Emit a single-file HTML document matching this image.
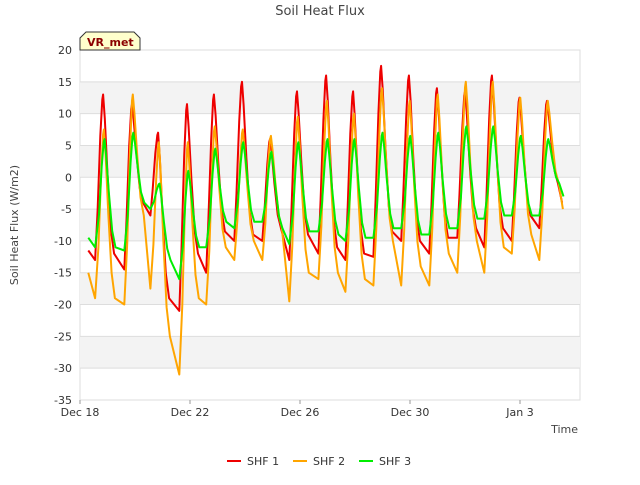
<!DOCTYPE html>
<html><head><meta charset="utf-8"><style>
body{margin:0;background:#fff;font-family:"Liberation Sans","DejaVu Sans",sans-serif;}
svg text{font-family:"DejaVu Sans","Liberation Sans",sans-serif;}
</style></head><body>
<svg id="c" width="640" height="480">
<text x="320" y="15" text-anchor="middle" font-size="13" fill="#444">Soil Heat Flux</text>
<text x="18" y="225" text-anchor="middle" font-size="11" fill="#444" transform="rotate(-90 18 225)">Soil Heat Flux (W/m2)</text>
<text x="578" y="433" text-anchor="end" font-size="11" fill="#444">Time</text>
<g id="grid"></g><g id="series"></g><g id="axes"></g>
<g><path d="M80,50 L80,38 L86,32 L134,32 L140,38 L140,50 Z" fill="#ffffcc" stroke="#333"/><text x="87" y="46" font-size="11" font-weight="bold" fill="#8b0000">VR_met</text></g>
<g>
<g><line x1="227" y1="461" x2="241" y2="461" stroke="#e00" stroke-width="2"/><text x="247" y="465" font-size="11" fill="#333">SHF 1</text></g>
<g><line x1="293" y1="461" x2="307" y2="461" stroke="#ffa500" stroke-width="2"/><text x="313" y="465" font-size="11" fill="#333">SHF 2</text></g>
<g><line x1="359" y1="461" x2="373" y2="461" stroke="#0e0" stroke-width="2"/><text x="379" y="465" font-size="11" fill="#333">SHF 3</text></g>
</g>
</svg>
<script>
const peakDays=[0.84,1.89,2.84,3.89,4.87,5.89,6.91,7.89,8.95,9.93,10.95,11.96,12.98,14.0,14.98,15.98,16.98];
const shf1Peaks=[13,11.5,7,11.5,13,15,6,13.5,16,13.5,17.5,16,14,13.5,16,12.5,12];
const shf2Peaks=[7.5,13,5.5,5.5,8,7.5,6.5,9.5,12,10,14,12,13,15,15,12.5,12];
const shf3Peaks=[6,7,-1,1,4.5,5.5,4,5.5,6,6,7,6.5,7,8,8,6.5,6];
const shf1Night=[[-11.5,-13],[-12,-14.5],[-4,-6],[-19,-21],[-12,-15],[-8.5,-10],[-9,-10],[-8,-13],[-9,-12],[-11,-13],[-12,-12.5],[-8.5,-10],[-10,-12],[-9.5,-9.5],[-8,-11],[-8,-10],[-6,-8]];
const shf2Night=[[-15,-19],[-19,-20],[-6,-17.5],[-25,-31],[-19,-20],[-11,-13],[-10,-13],[-8,-19.5],[-15,-16],[-15,-18],[-16,-17],[-10,-17],[-14,-17],[-12,-15],[-10,-15],[-11,-12],[-9,-13]];
const shf3Night=[[-9.5,-11],[-11,-11.5],[-4,-5],[-13,-16],[-11,-11],[-7,-8],[-7,-7],[-8,-10.5],[-8.5,-8.5],[-9,-10],[-9.5,-9.5],[-8,-8],[-9,-9],[-8,-8],[-6.5,-6.5],[-6,-6],[-6,-6]];
const endValues=[-4,-5,-3];
const yTicks=[20,15,10,5,0,-5,-10,-15,-20,-25,-30,-35];
const xTickDays=[0,4,8,12,16];
const xTickLabels=["Dec 18","Dec 22","Dec 26","Dec 30","Jan 3"];
const X0=80,X1=580,Y0=50,Y1=400;
const xs=d=>X0+d*27.5;
const ys=v=>Y0+(20-v)*(Y1-Y0)/55;
const NS="http://www.w3.org/2000/svg";
function mk(tag,attrs,parent){const e=document.createElementNS(NS,tag);for(const k in attrs)e.setAttribute(k,attrs[k]);parent.appendChild(e);return e;}
const grid=document.getElementById('grid'),axes=document.getElementById('axes'),ser=document.getElementById('series');
const bg=mk('rect',{x:X0,y:Y0,width:X1-X0,height:Y1-Y0,fill:'#fff',stroke:'#ddd'},grid);


[[15,10],[5,0],[-5,-10],[-15,-20],[-25,-30]].forEach(b=>{const r=mk('rect',{x:X0,y:ys(b[0]),width:X1-X0,height:ys(b[1])-ys(b[0]),fill:'#f3f3f3'},grid);

});
yTicks.forEach(v=>{const l=mk('line',{x1:X0,x2:X1,y1:ys(v),y2:ys(v),stroke:'#ddd'},grid);


const t=mk('text',{x:X0-8,y:ys(v)+4,'text-anchor':'end','font-size':11,fill:'#333'},axes);t.textContent=v;

});
xTickDays.forEach((d,i)=>{const t=mk('text',{x:xs(d),y:Y1+16,'text-anchor':'middle','font-size':11,fill:'#333'},axes);t.textContent=xTickLabels[i];


const l=mk('line',{x1:xs(d),x2:xs(d),y1:Y1,y2:Y1+4,stroke:'#999'},axes);

});
function build(peaks,night,endV,lag){
  const pts=[[0.3,night[0][0]],[0.55,night[0][1]]];
  for(let i=0;i<peaks.length;i++){
    const p=peakDays[i]+lag,pk=peaks[i];
    const prev=pts[pts.length-1][1];
    const n=i+1<night.length?night[i+1]:[endV,endV];
    const na=i+1<peaks.length?n[0]:-1;
    pts.push([p-0.2,prev+(pk-prev)*0.3]);
    pts.push([p-0.1,prev+(pk-prev)*0.75]);
    pts.push([p-0.03,prev+(pk-prev)*0.97]);
    pts.push([p,pk]);
    pts.push([p+0.06,na+(pk-na)*0.85]);
    pts.push([p+0.16,na+(pk-na)*0.5]);
    pts.push([p+0.28,na+(pk-na)*0.15]);
    if(i+1<peaks.length){pts.push([p+0.4,n[0]]);pts.push([peakDays[i+1]-0.28,n[1]]);}
    else{pts.push([p+0.4,-1]);pts.push([p+0.55,endV]);}
  }
  return pts;
}
[[shf1Peaks,shf1Night,endValues[0],'#e00','shf1-line',0],[shf2Peaks,shf2Night,endValues[1],'#ffa500','shf2-line',0.03],[shf3Peaks,shf3Night,endValues[2],'#0e0','shf3-line',0.05]].forEach(s=>{
  const pts=build(s[0],s[1],s[2],s[5]);
  const path=mk('path',{d:pts.map((q,i)=>(i?'L':'M')+xs(q[0]).toFixed(1)+','+ys(q[1]).toFixed(1)).join(''),fill:'none',stroke:s[3],'stroke-width':2,'stroke-linejoin':'round'},ser);
  
  
});
</script>
</body></html>
